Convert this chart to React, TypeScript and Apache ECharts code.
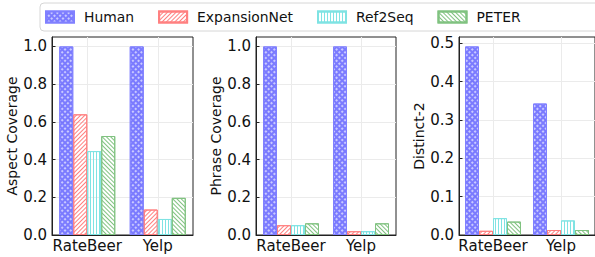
import React, { useEffect, useRef } from "react";
import * as echarts from "echarts";

const categories = ["RateBeer", "Yelp"];
const methods = ["Human", "ExpansionNet", "Ref2Seq", "PETER"];

// Aspect Coverage
const aspectHuman = [1.0, 1.0];
const aspectExpansionNet = [0.64, 0.135];
const aspectRef2Seq = [0.445, 0.085];
const aspectPETER = [0.525, 0.197];

// Phrase Coverage
const phraseHuman = [1.0, 1.0];
const phraseExpansionNet = [0.052, 0.02];
const phraseRef2Seq = [0.052, 0.02];
const phrasePETER = [0.062, 0.062];

// Distinct-2
const distinctHuman = [0.492, 0.343];
const distinctExpansionNet = [0.011, 0.013];
const distinctRef2Seq = [0.044, 0.038];
const distinctPETER = [0.035, 0.013];

const aspectTicks = [0, 0.2, 0.4, 0.6, 0.8, 1.0];
const phraseTicks = [0, 0.2, 0.4, 0.6, 0.8, 1.0];
const distinctTicks = [0, 0.1, 0.2, 0.3, 0.4, 0.5];

const FONT = "DejaVu Sans";

const styles: Record<string, any> = {
  Human: {
    color: "rgba(60,60,255,0.68)",
    borderColor: "#8080ff",
    borderWidth: 1,
    decal: {
      symbol: "rect",
      symbolSize: 0.8,
      color: "#ffffff",
      dashArrayX: [2, 2],
      dashArrayY: [2, 2],
      rotation: Math.PI / 4,
    },
  },
  ExpansionNet: {
    color: "rgba(255,255,255,0)",
    borderColor: "#ff8080",
    borderWidth: 1,
    decal: {
      symbol: "rect",
      symbolSize: 1,
      color: "#ff8080",
      dashArrayX: [1, 0],
      dashArrayY: [1, 2],
      rotation: -Math.PI / 4,
    },
  },
  Ref2Seq: {
    color: "rgba(255,255,255,0)",
    borderColor: "#7fe3e3",
    borderWidth: 1,
    decal: {
      symbol: "rect",
      symbolSize: 1,
      color: "#7fe3e3",
      dashArrayX: [1, 2],
      dashArrayY: [1, 0],
      rotation: 0,
    },
  },
  PETER: {
    color: "rgba(255,255,255,0)",
    borderColor: "#80c280",
    borderWidth: 1,
    decal: {
      symbol: "rect",
      symbolSize: 1,
      color: "#80c280",
      dashArrayX: [1, 0],
      dashArrayY: [1, 2],
      rotation: Math.PI / 4,
    },
  },
};

export default function App() {
  const ref = useRef<HTMLDivElement>(null);

  useEffect(() => {
    document.body.style.margin = "0";
    if (!ref.current) return;
    const chart = echarts.init(ref.current, undefined, { renderer: "svg" });

    const panels = [
      {
        name: "Aspect Coverage",
        ticks: aspectTicks,
        max: Math.max(...aspectHuman, ...aspectExpansionNet, ...aspectRef2Seq, ...aspectPETER) * 1.05,
        data: [aspectHuman, aspectExpansionNet, aspectRef2Seq, aspectPETER],
        left: 52,
        width: 141,
      },
      {
        name: "Phrase Coverage",
        ticks: phraseTicks,
        max: Math.max(...phraseHuman, ...phraseExpansionNet, ...phraseRef2Seq, ...phrasePETER) * 1.05,
        data: [phraseHuman, phraseExpansionNet, phraseRef2Seq, phrasePETER],
        left: 256,
        width: 140,
      },
      {
        name: "Distinct-2",
        ticks: distinctTicks,
        max: Math.max(...distinctHuman, ...distinctExpansionNet, ...distinctRef2Seq, ...distinctPETER) * 1.05,
        data: [distinctHuman, distinctExpansionNet, distinctRef2Seq, distinctPETER],
        left: 459,
        width: 141,
      },
    ];

    const grid = panels.map((p) => ({
      left: p.left,
      top: 37,
      width: p.width,
      height: 198,
      show: true,
      borderColor: "#222",
      borderWidth: 1,
      backgroundColor: "transparent",
      containLabel: false,
    }));

    const xAxis = panels.map((p, i) => ({
      type: "category",
      gridIndex: i,
      data: categories,
      axisLine: { show: true, lineStyle: { color: "#222", width: 1 } },
      axisTick: { show: true, inside: true, length: 3.5, alignWithLabel: true, lineStyle: { color: "#222" } },
      axisLabel: {
        color: "#111",
        fontSize: 15,
        fontFamily: FONT,
        margin: 3,
        interval: 0,
        hideOverlap: false,
      },
      splitLine: { show: true, alignWithLabel: true, interval: 0, lineStyle: { color: "#ebebeb", width: 1 } },
    }));

    const yAxis = panels.map((p, i) => {
      const step = p.ticks[1] - p.ticks[0];
      return {
        type: "value",
        gridIndex: i,
        min: p.ticks[0],
        max: p.max,
        interval: step,
        name: p.name,
        nameLocation: "middle",
        nameGap: 31,
        nameTextStyle: { color: "#111", fontSize: 14, fontFamily: FONT },
        axisLine: { show: true, lineStyle: { color: "#222", width: 1 } },
        axisTick: {
          show: true,
          inside: true,
          length: 3.5,
          customValues: p.ticks,
          lineStyle: { color: "#222" },
        },
        axisLabel: {
          color: "#111",
          fontSize: 15,
          fontFamily: FONT,
          margin: 5,
          customValues: p.ticks,
          hideOverlap: false,
          formatter: (v: number) => v.toFixed(1),
        },
        splitLine: { show: true, lineStyle: { color: "#ebebeb", width: 1 } },
      };
    });

    const series: any[] = [];
    panels.forEach((p, i) => {
      methods.forEach((m, j) => {
        series.push({
          type: "bar",
          name: m,
          xAxisIndex: i,
          yAxisIndex: i,
          data: p.data[j],
          barWidth: 14,
          barGap: "0%",
          itemStyle: styles[m],
          emphasis: { disabled: true },
        });
      });
    });

    chart.setOption({
      animation: false,
      backgroundColor: "#fff",
      textStyle: { fontFamily: FONT },
      legend: {
        data: methods,
        left: 40,
        top: 3,
        width: 540,
        orient: "horizontal",
        icon: "rect",
        itemWidth: 28,
        itemHeight: 11,
        itemGap: 24,
        padding: [7, 120, 7, 5],
        borderColor: "#d6d6d6",
        borderWidth: 1,
        borderRadius: 4,
        backgroundColor: "#fff",
        selectedMode: false,
        textStyle: { color: "#111", fontSize: 13.9, fontFamily: FONT, padding: [0, 0, 0, 5] },
      },
      grid,
      xAxis,
      yAxis,
      series,
    });

    return () => chart.dispose();
  }, []);

  return <div ref={ref} style={{ width: 595, height: 257 }} />;
}
